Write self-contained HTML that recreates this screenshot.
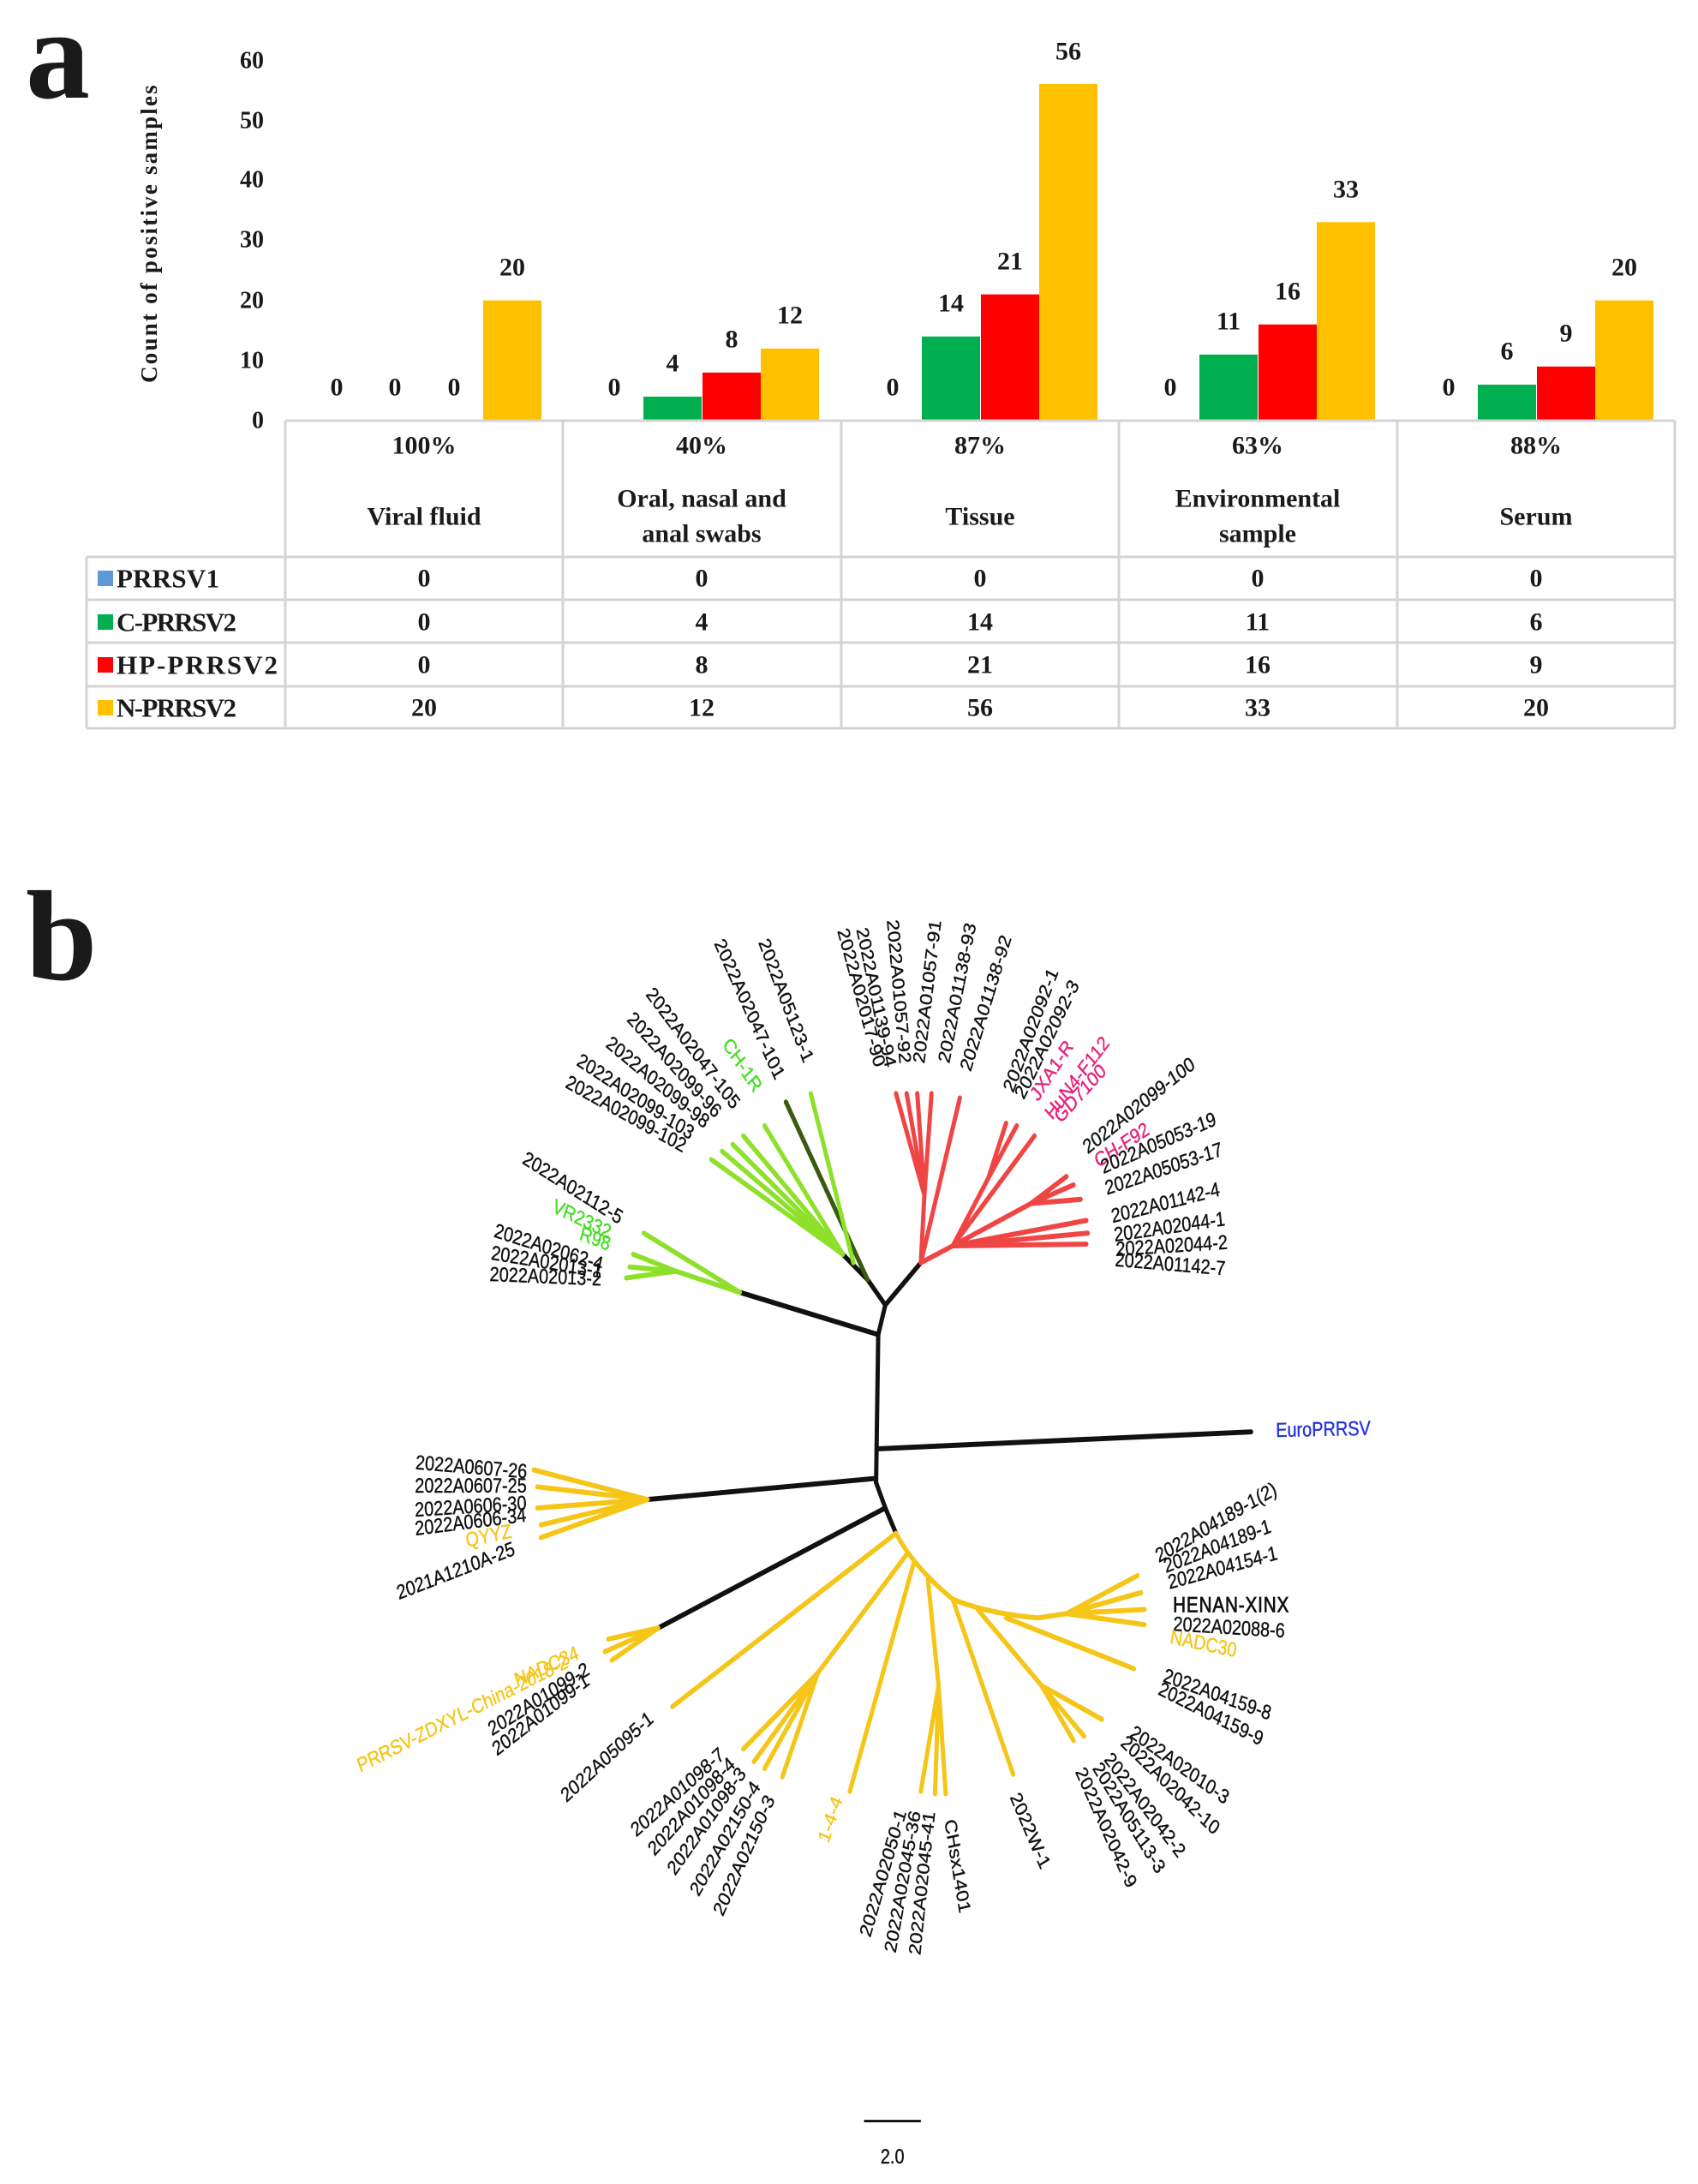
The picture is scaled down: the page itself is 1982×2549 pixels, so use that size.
<!DOCTYPE html>
<html><head><meta charset="utf-8"><style>
html,body{margin:0;padding:0;background:#fff;}
svg{display:block;}
.s{font-family:"Liberation Serif",serif;font-weight:bold;fill:#1a1a1a;}
.t{font-family:"Liberation Sans",sans-serif;fill:#111;font-size:24px;stroke:#111;stroke-width:0.4;}
</style></head><body>
<svg width="1982" height="2549" viewBox="0 0 1982 2549" xmlns="http://www.w3.org/2000/svg">
<rect width="1982" height="2549" fill="#fff"/>
<!-- panel a -->
<text class="s" x="30" y="114" font-size="150">a</text>
<text class="s" font-size="27" letter-spacing="2.2" text-anchor="middle" transform="translate(183,272) rotate(-90)">Count of positive samples</text>
<g class="s" font-size="28" text-anchor="end" dominant-baseline="central">
<text x="308" y="71">60</text><text x="308" y="141">50</text><text x="308" y="210">40</text>
<text x="308" y="280">30</text><text x="308" y="351">20</text><text x="308" y="421">10</text><text x="308" y="491">0</text>
</g>
<g>
<rect x="564" y="350.6" width="68" height="140.4" fill="#ffc000"/>
<rect x="751" y="462.9" width="68" height="28.1" fill="#00b050"/>
<rect x="820" y="434.8" width="68" height="56.2" fill="#ff0000"/>
<rect x="888" y="406.8" width="68" height="84.2" fill="#ffc000"/>
<rect x="1076" y="392.7" width="68" height="98.3" fill="#00b050"/>
<rect x="1145" y="343.6" width="68" height="147.4" fill="#ff0000"/>
<rect x="1213" y="97.9" width="68" height="393.1" fill="#ffc000"/>
<rect x="1400" y="413.8" width="68" height="77.2" fill="#00b050"/>
<rect x="1469" y="378.7" width="68" height="112.3" fill="#ff0000"/>
<rect x="1537" y="259.3" width="68" height="231.7" fill="#ffc000"/>
<rect x="1725" y="448.9" width="68" height="42.1" fill="#00b050"/>
<rect x="1794" y="427.8" width="68" height="63.2" fill="#ff0000"/>
<rect x="1862" y="350.6" width="68" height="140.4" fill="#ffc000"/>
</g>
<g class="s" font-size="30" text-anchor="middle" dominant-baseline="central">
<text x="393" y="452">0</text><text x="461" y="452">0</text><text x="530" y="452">0</text><text x="598" y="312">20</text>
<text x="717" y="452">0</text><text x="785" y="424">4</text><text x="854" y="396">8</text><text x="922" y="368">12</text>
<text x="1042" y="452">0</text><text x="1110" y="354">14</text><text x="1179" y="305">21</text><text x="1247" y="60">56</text>
<text x="1366" y="452">0</text><text x="1434" y="375">11</text><text x="1503" y="340">16</text><text x="1571" y="221">33</text>
<text x="1691" y="452">0</text><text x="1759" y="410">6</text><text x="1828" y="389">9</text><text x="1896" y="312">20</text>
</g>
<g stroke="#d4d4d4" stroke-width="3" fill="none">
<line x1="333" y1="491" x2="1955" y2="491"/>
<line x1="101" y1="650" x2="1955" y2="650"/>
<line x1="101" y1="700" x2="1955" y2="700"/>
<line x1="101" y1="750" x2="1955" y2="750"/>
<line x1="101" y1="801" x2="1955" y2="801"/>
<line x1="101" y1="850" x2="1955" y2="850"/>
<line x1="101" y1="650" x2="101" y2="850"/>
<line x1="333" y1="491" x2="333" y2="850"/>
<line x1="657" y1="491" x2="657" y2="850"/>
<line x1="982" y1="491" x2="982" y2="850"/>
<line x1="1306" y1="491" x2="1306" y2="850"/>
<line x1="1631" y1="491" x2="1631" y2="850"/>
<line x1="1955" y1="491" x2="1955" y2="850"/>
</g>
<g class="s" font-size="30" text-anchor="middle" dominant-baseline="central">
<text x="495" y="520">100%</text><text x="819" y="520">40%</text><text x="1144" y="520">87%</text><text x="1468" y="520">63%</text><text x="1793" y="520">88%</text>
<text x="495" y="603">Viral fluid</text>
<text x="819" y="582">Oral, nasal and</text><text x="819" y="623">anal swabs</text>
<text x="1144" y="603">Tissue</text>
<text x="1468" y="582">Environmental</text><text x="1468" y="623">sample</text>
<text x="1793" y="603">Serum</text>
<text x="495" y="675">0</text><text x="819" y="675">0</text><text x="1144" y="675">0</text><text x="1468" y="675">0</text><text x="1793" y="675">0</text>
<text x="495" y="726">0</text><text x="819" y="726">4</text><text x="1144" y="726">14</text><text x="1468" y="726">11</text><text x="1793" y="726">6</text>
<text x="495" y="776">0</text><text x="819" y="776">8</text><text x="1144" y="776">21</text><text x="1468" y="776">16</text><text x="1793" y="776">9</text>
<text x="495" y="826">20</text><text x="819" y="826">12</text><text x="1144" y="826">56</text><text x="1468" y="826">33</text><text x="1793" y="826">20</text>
</g>
<rect x="114" y="666" width="18" height="18" fill="#5b9bd5"/>
<rect x="114" y="717" width="18" height="18" fill="#00b050"/>
<rect x="114" y="767" width="18" height="18" fill="#ff0000"/>
<rect x="114" y="817" width="18" height="18" fill="#ffc000"/>
<g class="s" font-size="31" dominant-baseline="central">
<text x="136" y="675" textLength="120">PRRSV1</text>
<text x="136" y="726" textLength="140">C-PRRSV2</text>
<text x="136" y="776" textLength="188">HP-PRRSV2</text>
<text x="136" y="826" textLength="140">N-PRRSV2</text>
</g>

<!-- panel b -->
<text class="s" x="30" y="1143" font-size="150">b</text>
<g transform="translate(250,1000) scale(0.829,0.987)">
<g fill="none" stroke-linecap="round">
<g stroke="#111" stroke-width="6">
<line x1="935" y1="565" x2="932" y2="740"/>
<line x1="935" y1="565" x2="945" y2="530"/>
<line x1="945" y1="530" x2="920" y2="500"/>
<line x1="920" y1="500" x2="885" y2="470"/>
<line x1="945" y1="530" x2="995" y2="480"/>
<line x1="935" y1="565" x2="740" y2="515"/>
<line x1="935" y1="700" x2="1460" y2="680"/>
<line x1="932" y1="735" x2="610" y2="760"/>
<line x1="932" y1="740" x2="945" y2="770"/>
<line x1="945" y1="770" x2="960" y2="800"/>
<line x1="945" y1="770" x2="625" y2="912"/>
</g>
<line x1="920" y1="500" x2="805" y2="290" stroke="#3a5a10" stroke-width="6"/>
<g stroke="#8ee02a" stroke-width="6">
<line x1="885" y1="470" x2="700" y2="358"/><line x1="885" y1="470" x2="715" y2="348"/>
<line x1="885" y1="470" x2="730" y2="340"/><line x1="885" y1="470" x2="745" y2="330"/>
<line x1="885" y1="470" x2="775" y2="318"/><line x1="900" y1="480" x2="840" y2="280"/>
<line x1="740" y1="515" x2="650" y2="490"/>
<line x1="740" y1="515" x2="605" y2="445"/><line x1="650" y1="490" x2="590" y2="470"/>
<line x1="650" y1="490" x2="585" y2="485"/><line x1="650" y1="490" x2="580" y2="498"/>
</g>
<g stroke="#f04545" stroke-width="6">
<line x1="995" y1="480" x2="1000" y2="400"/>
<line x1="1000" y1="400" x2="960" y2="280"/><line x1="1000" y1="400" x2="975" y2="280"/>
<line x1="1000" y1="400" x2="990" y2="280"/><line x1="1000" y1="400" x2="1010" y2="280"/>
<line x1="995" y1="480" x2="1050" y2="285"/>
<line x1="995" y1="480" x2="1040" y2="460"/>
<line x1="1040" y1="460" x2="1090" y2="380"/>
<line x1="1090" y1="380" x2="1115" y2="315"/><line x1="1090" y1="380" x2="1130" y2="318"/>
<line x1="1040" y1="460" x2="1155" y2="330"/>
<line x1="1040" y1="460" x2="1150" y2="410"/>
<line x1="1150" y1="410" x2="1200" y2="378"/><line x1="1150" y1="410" x2="1210" y2="388"/>
<line x1="1150" y1="410" x2="1220" y2="405"/>
<line x1="1040" y1="460" x2="1228" y2="430"/><line x1="1040" y1="460" x2="1230" y2="445"/>
<line x1="1040" y1="460" x2="1228" y2="458"/>
</g>
<g stroke="#f5c518" stroke-width="6">
<path d="M960 800 Q985 840 1040 878 Q1090 895 1160 900 L1200 895"/>
<line x1="960" y1="800" x2="645" y2="1005"/>
<line x1="975" y1="825" x2="850" y2="965"/>
<line x1="850" y1="965" x2="745" y2="1055"/><line x1="850" y1="965" x2="760" y2="1070"/>
<line x1="850" y1="965" x2="775" y2="1078"/><line x1="850" y1="965" x2="800" y2="1088"/>
<line x1="985" y1="835" x2="895" y2="1105"/>
<line x1="1005" y1="855" x2="1020" y2="980"/>
<line x1="1020" y1="980" x2="995" y2="1105"/><line x1="1020" y1="980" x2="1015" y2="1108"/>
<line x1="1020" y1="980" x2="1030" y2="1108"/>
<line x1="1040" y1="878" x2="1125" y2="1085"/>
<line x1="1075" y1="890" x2="1165" y2="980"/>
<line x1="1165" y1="980" x2="1210" y2="1045"/><line x1="1165" y1="980" x2="1225" y2="1040"/>
<line x1="1165" y1="980" x2="1250" y2="1020"/>
<line x1="1115" y1="900" x2="1295" y2="960"/>
<line x1="1200" y1="895" x2="1300" y2="850"/><line x1="1200" y1="895" x2="1305" y2="870"/>
<line x1="1200" y1="895" x2="1310" y2="890"/><line x1="1200" y1="895" x2="1310" y2="908"/>
<line x1="625" y1="912" x2="550" y2="940"/><line x1="625" y1="912" x2="560" y2="950"/>
<line x1="625" y1="912" x2="555" y2="925"/>
<line x1="610" y1="760" x2="450" y2="725"/><line x1="610" y1="760" x2="455" y2="745"/>
<line x1="610" y1="760" x2="455" y2="770"/><line x1="610" y1="760" x2="460" y2="790"/>
<line x1="610" y1="760" x2="460" y2="805"/>
</g>
</g>
<g class="t" text-anchor="end">
<text transform="translate(830,245) rotate(66)">2022A05123-1</text>
<text transform="translate(790,265) rotate(62)">2022A02047-101</text>
<text transform="translate(760,280) rotate(52)" fill="#44dd22" stroke="#44dd22">CH-1R</text>
<text transform="translate(730,300) rotate(48)">2022A02047-105</text>
<text transform="translate(705,310) rotate(43)">2022A02099-96</text>
<text transform="translate(690,322) rotate(35)">2022A02099-98</text>
<text transform="translate(670,335) rotate(29)">2022A02099-103</text>
<text transform="translate(660,350) rotate(25)">2022A02099-102</text>
<text transform="translate(570,435) rotate(28)">2022A02112-5</text>
<text transform="translate(555,452) rotate(22)" fill="#44dd22" stroke="#44dd22">VR2332</text>
<text transform="translate(555,466) rotate(18)" fill="#44dd22" stroke="#44dd22">R98</text>
<text transform="translate(545,490) rotate(15)">2022A02062-4</text>
<text transform="translate(545,498) rotate(8)">2022A02013-1</text>
<text transform="translate(545,507) rotate(2)">2022A02013-2</text>
<text transform="translate(930,250) rotate(72)">2022A02017-90</text>
<text transform="translate(945,250) rotate(76)">2022A01139-94</text>
<text transform="translate(965,245) rotate(84)">2022A01057-92</text>
<text transform="translate(440,735) rotate(4)">2022A0607-26</text>
<text transform="translate(440,752) rotate(0)">2022A0607-25</text>
<text transform="translate(440,772) rotate(-3)">2022A0606-30</text>
<text transform="translate(440,786) rotate(-6)">2022A0606-34</text>
<text transform="translate(420,805) rotate(-10)" fill="#f5c518" stroke="#f5c518">QYYZ</text>
<text transform="translate(425,825) rotate(-18)">2021A1210A-25</text>
<text transform="translate(1015,1130) rotate(-83)">2022A02045-41</text>
<text transform="translate(995,1130) rotate(-78)">2022A02045-36</text>
<text transform="translate(975,1130) rotate(-71)">2022A02050-1</text>
<text transform="translate(885,1115) rotate(-69)" fill="#f5c518" stroke="#f5c518">1-4-4</text>
<text transform="translate(790,1115) rotate(-62)">2022A02150-3</text>
<text transform="translate(770,1100) rotate(-56)">2022A02150-4</text>
<text transform="translate(750,1085) rotate(-50)">2022A01098-3</text>
<text transform="translate(735,1075) rotate(-43)">2022A01098-4</text>
<text transform="translate(720,1065) rotate(-37)">2022A01098-7</text>
<text transform="translate(620,1022) rotate(-38)">2022A05095-1</text>
<text transform="translate(530,978) rotate(-33)">2022A01099-1</text>
<text transform="translate(530,966) rotate(-28)">2022A01099-2</text>
<text transform="translate(515,948) rotate(-21)" fill="#f5c518" stroke="#f5c518">NADC34</text>
<text transform="translate(500,958) rotate(-23)" fill="#f5c518" stroke="#f5c518">PRRSV-ZDXYL-China-2018-2</text>
</g>
<g class="t" text-anchor="start">
<text transform="translate(1000,245) rotate(-82)">2022A01057-91</text>
<text transform="translate(1035,245) rotate(-77)">2022A01138-93</text>
<text transform="translate(1065,255) rotate(-70)">2022A01138-92</text>
<text transform="translate(1125,280) rotate(-66)">2022A02092-1</text>
<text transform="translate(1140,288) rotate(-60)">2022A02092-3</text>
<text transform="translate(1160,290) rotate(-52)" fill="#e8207a" stroke="#e8207a">JXA1-R</text>
<text transform="translate(1180,312) rotate(-48)" fill="#e8207a" stroke="#e8207a">HuN4-F112</text>
<text transform="translate(1192,316) rotate(-43)" fill="#e8207a" stroke="#e8207a">GD7100</text>
<text transform="translate(1230,352) rotate(-34)">2022A02099-100</text>
<text transform="translate(1245,368) rotate(-29)" fill="#e8207a" stroke="#e8207a">CH-F92</text>
<text transform="translate(1252,375) rotate(-20)">2022A05053-19</text>
<text transform="translate(1257,400) rotate(-16)">2022A05053-17</text>
<text transform="translate(1265,433) rotate(-12)">2022A01142-4</text>
<text transform="translate(1268,455) rotate(-7)">2022A02044-1</text>
<text transform="translate(1270,472) rotate(-3)">2022A02044-2</text>
<text transform="translate(1268,484) rotate(4)">2022A01142-7</text>
<text transform="translate(1495,686) rotate(-1)" fill="#2233dd" stroke="#2233dd">EuroPRRSV</text>
<text transform="translate(1330,835) rotate(-26)">2022A04189-1(2)</text>
<text transform="translate(1340,847) rotate(-18)">2022A04189-1</text>
<text transform="translate(1345,866) rotate(-13)">2022A04154-1</text>
<text transform="translate(1350,893)" font-size="25" letter-spacing="1" stroke-width="0.8">HENAN-XINX</text>
<text transform="translate(1350,915) rotate(3)">2022A02088-6</text>
<text transform="translate(1345,930) rotate(10)" fill="#f5c518" stroke="#f5c518">NADC30</text>
<text transform="translate(1335,975) rotate(17)">2022A04159-8</text>
<text transform="translate(1328,990) rotate(23)">2022A04159-9</text>
<text transform="translate(1288,1040) rotate(31)">2022A02010-3</text>
<text transform="translate(1275,1050) rotate(39)">2022A02042-10</text>
<text transform="translate(1252,1068) rotate(48)">2022A02042-2</text>
<text transform="translate(1236,1078) rotate(54)">2022A05113-3</text>
<text transform="translate(1212,1082) rotate(62)">2022A02042-9</text>
<text transform="translate(1120,1112) rotate(63)">2022W-1</text>
<text transform="translate(1028,1140) rotate(79)">CHsx1401</text>
</g>
<line x1="915" y1="1495" x2="995" y2="1495" stroke="#111" stroke-width="3"/>
<text class="t" x="955" y="1545" text-anchor="middle" font-size="30">2.0</text>
</g>
</svg>
</body></html>
